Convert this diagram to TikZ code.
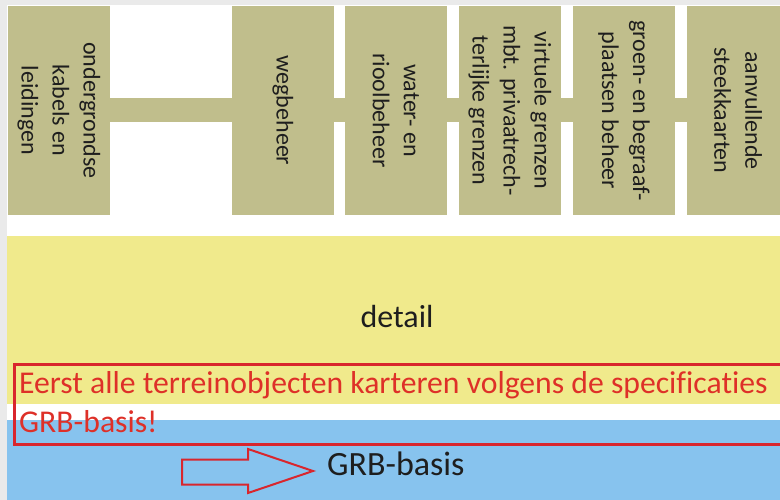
\documentclass[tikz,border=0pt]{standalone}
\usepackage{fontspec}
\setmainfont{Carlito}[Ligatures=NoCommon]
\usetikzlibrary{backgrounds}
\definecolor{boxcol}{RGB}{192,190,140}
\definecolor{yel}{RGB}{240,234,140}
\definecolor{blu}{RGB}{135,195,238}
\definecolor{redline}{RGB}{217,38,45}
\definecolor{redtxt}{RGB}{222,48,40}
\definecolor{greyb}{RGB}{234,234,234}
\definecolor{txt}{RGB}{30,30,30}
\tikzset{
  colbox/.style={rectangle, fill=boxcol, rotate=-90, minimum width=209pt, minimum height=102pt,
    inner sep=0pt, align=center, text=txt, font=\fontsize{24}{31}\selectfont},
  bar/.style={draw=boxcol, line width=24pt},
  band/.style={rectangle, inner sep=0pt, anchor=north west},
}
\begin{document}
\begin{tikzpicture}[x=1pt,y=-1pt]
\clip (0,0) rectangle (780,500);
% column boxes
\node[colbox] (b1) at (59,110.5) {ondergrondse\\kabels en\\leidingen};
\node[colbox] (b2) at (283,110.5) {wegbeheer};
\node[colbox] (b3) at (396,110.5) {water- en\\rioolbeheer};
\node[colbox] (b4) at (510,110.5) {virtuele grenzen\\mbt. privaatrech-\\terlijke grenzen};
\node[colbox] (b5) at (624,110.5) {groen- en begraaf-\\plaatsen beheer};
\node[colbox] (b6) at (738,110.5) {aanvullende\\steekkaarten};
\begin{scope}[on background layer]
\fill[white] (0,0) rectangle (780,500);
\fill[greyb] (0,0) rectangle (780,5);
\fill[greyb] (0,0) rectangle (7,500);
\draw[bar] (b1.center) -- (b6.center);
\end{scope}
% bands
\node[band, fill=yel, minimum width=773pt, minimum height=168pt] (yband) at (7,236) {};
\node[band, fill=blu, minimum width=773pt, minimum height=80pt] (bband) at (7,420) {};
\node[anchor=base, inner sep=0pt, text=txt, font=\fontsize{32}{32}\selectfont] (det) at (397,327) {detail};
% highlight
\node[band, draw=redline, line width=2.5pt, minimum width=800pt, minimum height=80pt] (hl) at (13,363) {};
\node[anchor=base west, inner sep=0pt, align=left, text=redtxt, font=\fontsize{31.7}{39}\selectfont] (note) at (19,432) {Eerst alle terreinobjecten karteren volgens de specificaties\\GRB-basis!};
% arrow and label
\draw[redline, line width=2pt, line join=miter]
  (182,459.5) -- (248,459.5) -- (248,449) -- (313,471) -- (248,493) -- (248,484.5) -- (182,484.5) -- cycle;
\node[anchor=base west, inner sep=0pt, text=txt, font=\fontsize{34}{34}\selectfont] (grb) at (327,475) {GRB-basis};
\end{tikzpicture}
\end{document}
